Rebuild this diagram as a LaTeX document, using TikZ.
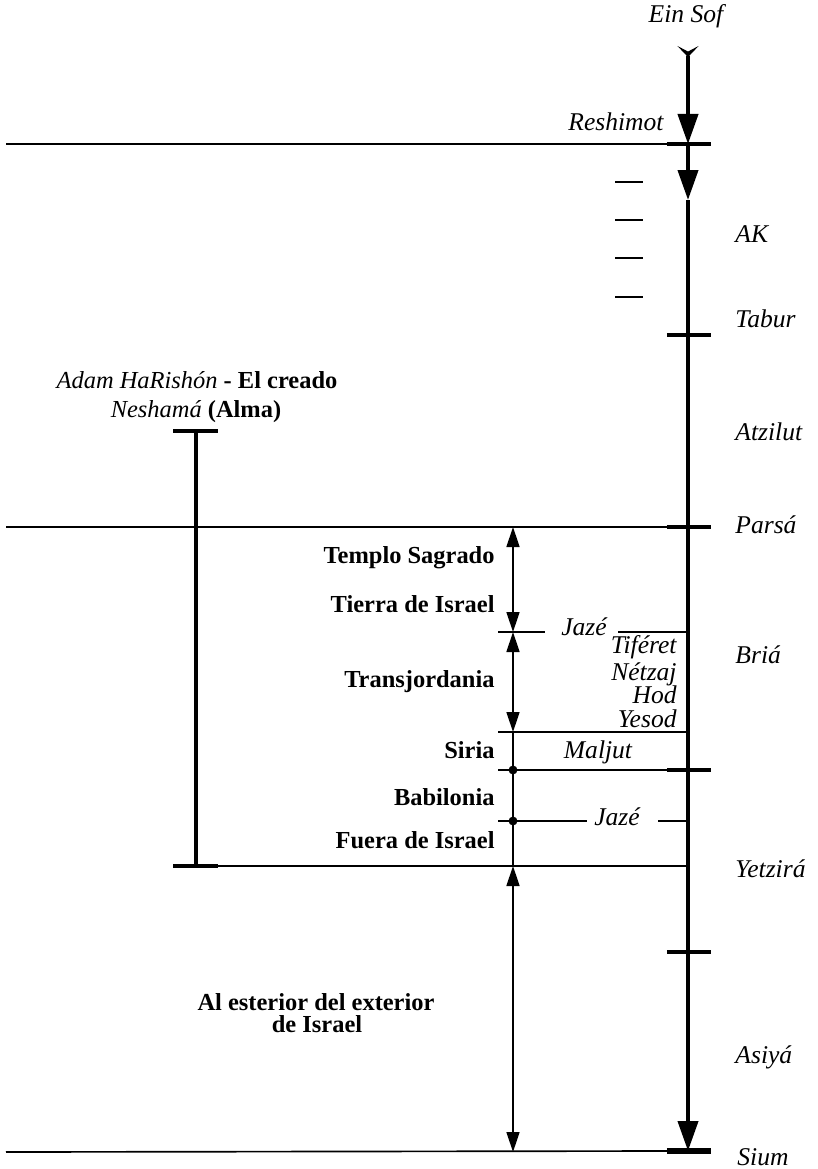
\documentclass[tikz,border=0pt]{standalone}
\usepackage{fontspec}
\setmainfont{Liberation Serif}
\usetikzlibrary{arrows.meta}
\begin{document}
\begin{tikzpicture}[x=0.45pt,y=-0.45pt,
  thinline/.style={line width=0.75pt},
  mainline/.style={line width=1.8pt},
  tickline/.style={line width=1.6pt},
  bigtip/.style={-{Triangle[length=13.5pt,width=9pt]}},
  dblarrow/.style={line width=0.9pt,{Triangle[length=9pt,width=5.8pt]}-{Triangle[length=9pt,width=5.8pt]}},
  lab/.style={inner sep=0pt,font=\fontsize{11}{13}\selectfont},
  itl/.style={lab,font=\fontsize{11.5}{13}\selectfont\itshape},
  bfl/.style={lab,font=\fontsize{11}{13}\selectfont\bfseries}]
\useasboundingbox (0,0) rectangle (818,1169);
% main line coordinates
\coordinate (top) at (688,46);
\coordinate (resh) at (688,144);
\coordinate (a2) at (688,200);
\coordinate (tab) at (688,335);
\coordinate (par) at (688,527);
\coordinate (jz1) at (688,632);
\coordinate (yes) at (688,732);
\coordinate (mal) at (688,770);
\coordinate (jz2) at (688,821);
\coordinate (yet) at (688,866);
\coordinate (asi) at (688,952);
\coordinate (sium) at (688,1151);
% main line
\draw[mainline,{Stealth[reversed,length=5pt,width=9.5pt,inset=2.5pt]}-{Triangle[length=13.5pt,width=9pt]}] (top) -- (resh);
\draw[mainline,bigtip] (resh) -- (a2);
\draw[mainline,bigtip] (a2) -- (sium);
% ticks
\foreach \c in {resh,tab,par,mal,asi}
  \draw[tickline] ([xshift=-9.5pt]\c) -- ([xshift=10.3pt]\c);
\draw[line width=2.7pt] ([xshift=-9.5pt]sium) -- ([xshift=10.3pt]sium);
% long horizontal lines
\coordinate (lresh) at (6,144);
\coordinate (lpar) at (6,527);
\coordinate (lsium) at (6,1152);
\draw[thinline] (lresh) -- ([xshift=-9.5pt]resh);
\draw[thinline] (lpar) -- ([xshift=-9.5pt]par);
\draw[thinline] (lsium) -- ([xshift=-9.5pt]sium);
% AK dashes
\foreach \y in {182,220,258,297}
  \draw[line width=1.3pt] (615,\y) -- (643,\y);
% Adam HaRishon bar
\coordinate (adt) at (196,431);
\coordinate (adb) at (196,866);
\draw[line width=1.4pt] (adt) -- (adb);
\draw[line width=1.4pt] (173,431) -- (218,431);
\draw[line width=1.4pt] (173,866) -- (218,866);
\draw[thinline] (218,866) -- (yet);
% middle column
\coordinate (m1) at (513,527);
\coordinate (m2) at (513,632);
\coordinate (m3) at (513,732);
\coordinate (m4) at (513,770);
\coordinate (m5) at (513,821);
\coordinate (m6) at (513,866);
\coordinate (m7) at (513,1152);
\draw[dblarrow] (m1) -- (m2);
\draw[dblarrow] (m2) -- (m3);
\draw[line width=0.9pt] (m3) -- (m6);
\draw[dblarrow] (m6) -- (m7);
\fill (m4) circle (2pt);
\fill (m5) circle (2pt);
% horizontal lines in middle
\draw[thinline] (498,632) -- (545,632);
\draw[thinline] (618,632) -- (jz1);
\draw[thinline] (498,732) -- (yes);
\draw[thinline] (498,770) -- ([xshift=-9.5pt]mal);
\draw[thinline] (498,821) -- (587,821);
\draw[thinline] (658,821) -- (jz2);
% labels top/right
\node[itl,anchor=base] (einsof) at (686,23) {Ein Sof};
\node[itl,anchor=base east] (lreshimot) at (664,130) {Reshimot};
\node[itl,anchor=base west] (lak) at (735,242) {AK};
\node[itl,anchor=base west] (ltab) at (735,327) {Tabur};
\node[itl,anchor=base west] (latz) at (735,440) {Atzilut};
\node[itl,anchor=base west] (lparsa) at (735,533) {Parsá};
\node[itl,anchor=base west] (lbria) at (735,663) {Briá};
\node[itl,anchor=base west] (lyet) at (735,877) {Yetzirá};
\node[itl,anchor=base west] (lasi) at (735,1063) {Asiyá};
\node[itl,anchor=base west] (lsiu) at (737,1165) {Sium};
% sefirot
\node[itl,anchor=base east] (tif) at (677,653) {Tiféret};
\node[itl,anchor=base east] (net) at (677,680) {Nétzaj};
\node[itl,anchor=base east] (hod) at (677,703) {Hod};
\node[itl,anchor=base east] (ysd) at (677,727) {Yesod};
\node[itl,anchor=base] (malj) at (598,758) {Maljut};
\node[itl,anchor=base] (jaze1) at (584,635) {Jazé};
\node[itl,anchor=base] (jaze2) at (617,825) {Jazé};
% left labels
\node[bfl,anchor=base east] (tem) at (495,563) {Templo Sagrado};
\node[bfl,anchor=base east] (tie) at (495,612) {Tierra de Israel};
\node[bfl,anchor=base east] (tra) at (495,687) {Transjordania};
\node[bfl,anchor=base east] (sir) at (495,758) {Siria};
\node[bfl,anchor=base east] (bab) at (495,805) {Babilonia};
\node[bfl,anchor=base east] (fue) at (495,848) {Fuera de Israel};
\node[bfl,anchor=base] (ext1) at (316,1010) {Al esterior del exterior};
\node[bfl,anchor=base] (ext2) at (317,1032) {de Israel};
\node[lab,anchor=base] (adam1) at (197,388) {\textit{Adam HaRishón} \textbf{- El creado}};
\node[lab,anchor=base] (adam2) at (196,417) {\textit{Neshamá} \textbf{(Alma)}};
\end{tikzpicture}
\end{document}
